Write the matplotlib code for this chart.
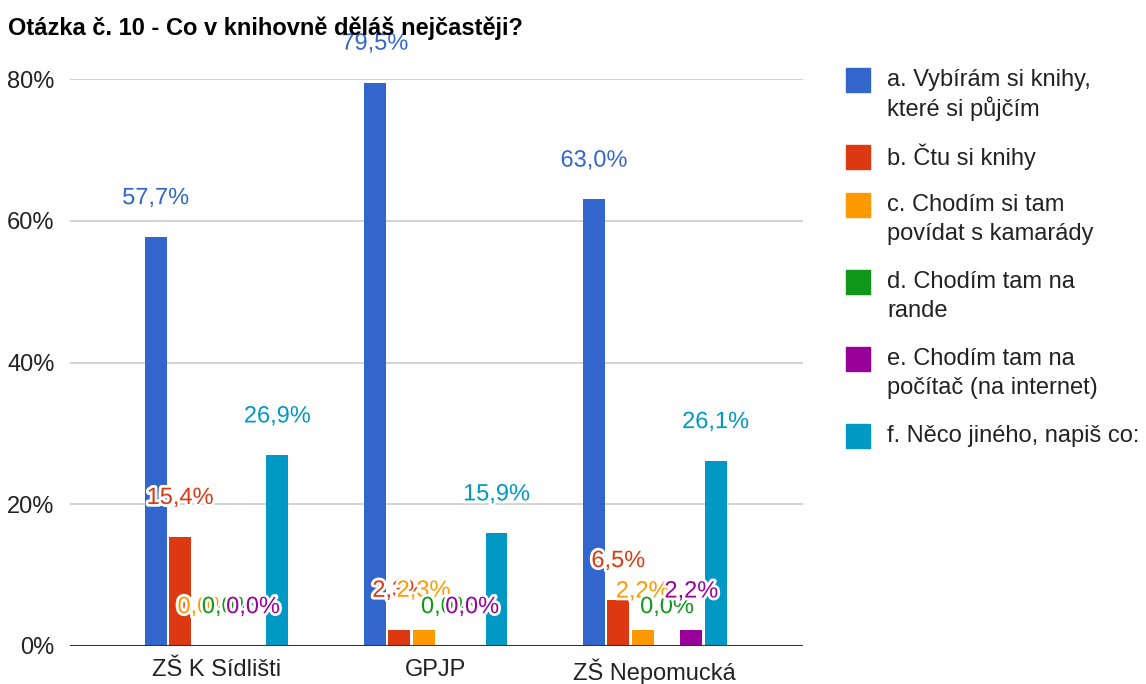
import matplotlib.pyplot as plt
import matplotlib.patheffects as pe
from matplotlib.patches import Rectangle
import numpy as np

plt.rcParams['font.family'] = ['Liberation Sans', 'DejaVu Sans']

skoly = ['ZŠ K Sídlišti', 'GPJP', 'ZŠ Nepomucká']
odpovedi = ['a. Vybírám si knihy,\nkteré si půjčím',
            'b. Čtu si knihy',
            'c. Chodím si tam\npovídat s kamarády',
            'd. Chodím tam na\nrande',
            'e. Chodím tam na\npočítač (na internet)',
            'f. Něco jiného, napiš co:']
a_vybiram = [57.7, 79.5, 63.0]
b_ctu = [15.4, 2.3, 6.5]
c_povidat = [0.0, 2.3, 2.2]
d_rande = [0.0, 0.0, 0.0]
e_pocitac = [0.0, 0.0, 2.2]
f_jine = [26.9, 15.9, 26.1]
barvy = ['#3366CC', '#DC3912', '#FF9900', '#109618', '#990099', '#0099C6']

serie = [a_vybiram, b_ctu, c_povidat, d_rande, e_pocitac, f_jine]

W, H = 1146, 684
fig = plt.figure(figsize=(W / 100, H / 100), dpi=100)
ax = fig.add_axes([70 / W, 1 - 646 / H, (803 - 70) / W, (646 - 79) / H])

x = np.arange(len(skoly))
krok = 0.111
for i, (hodnoty, barva) in enumerate(zip(serie, barvy)):
    pozice = x + (i - 2.5) * krok
    ax.bar(pozice, hodnoty, width=0.1, color=barva, zorder=3)
    for px, v in zip(pozice, hodnoty):
        ax.annotate(f'{v:.1f}%'.replace('.', ','), (px, v),
                    xytext=(0, 28), textcoords='offset points',
                    ha='center', va='center', fontsize=17, color=barva,
                    zorder=5,
                    path_effects=[pe.withStroke(linewidth=4, foreground='white')])

ax.set_xlim(-0.669, 2.676)
ax.set_ylim(0, 80)
ax.set_yticks([0, 20, 40, 60, 80])
ax.set_yticklabels(['0%', '20%', '40%', '60%', '80%'])
ax.set_xticks(x)
ax.set_xticklabels(skoly)
ax.tick_params(axis='both', length=0, labelsize=17, colors='#222222')
ax.tick_params(axis='y', pad=11)
ax.tick_params(axis='x', pad=9)
ax.grid(axis='y', color='#cccccc', linewidth=1.2, zorder=0)
ax.axhline(0, color='#333333', linewidth=1.5, zorder=4)
for s in ax.spines.values():
    s.set_visible(False)

fig.text(8 / W, 1 - 28 / H, 'Otázka č. 10 - Co v knihovně děláš nejčastěji?',
         fontsize=17, fontweight='bold', va='center', ha='left', color='#000000')

# legenda vpravo
y = 80
for popis, barva in zip(odpovedi, barvy):
    fig.patches.append(Rectangle((846 / W, 1 - (y + 12) / H), 24 / W, 24 / H,
                                 transform=fig.transFigure, color=barva))
    for j, radek in enumerate(popis.split('\n')):
        fig.text(887 / W, 1 - (y + 29 * j) / H, radek, fontsize=17,
                 va='center', ha='left', color='#222222')
    y += 48 + 29 * (popis.count('\n'))

fig.savefig('out.png', dpi=100)
